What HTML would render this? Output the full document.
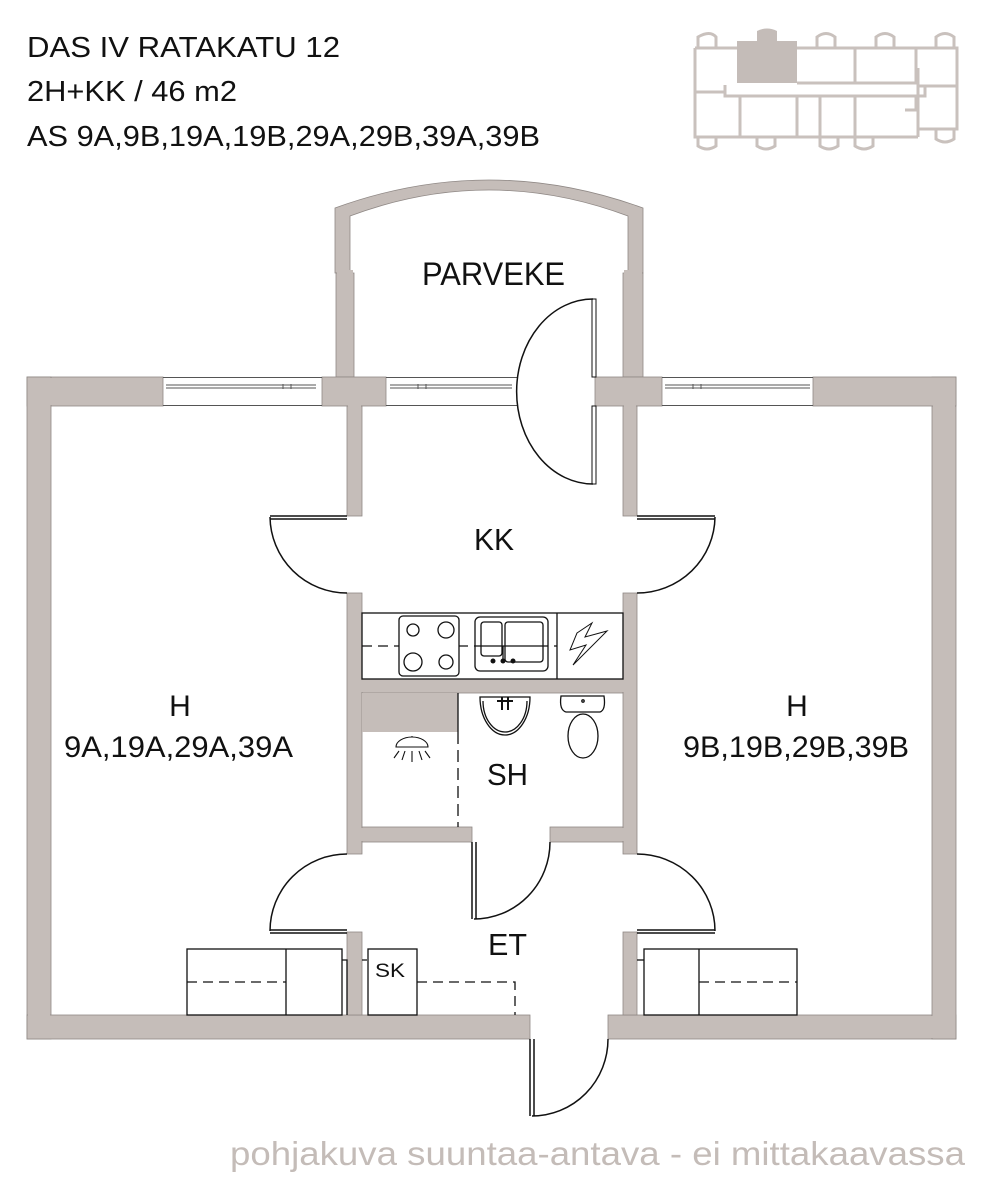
<!DOCTYPE html>
<html><head><meta charset="utf-8"><style>
html,body{margin:0;padding:0;background:#fff;}
svg{display:block;}
text{font-family:"Liberation Sans",Arial,sans-serif;}
</style></head><body>
<svg width="990" height="1200" viewBox="0 0 990 1200" xmlns="http://www.w3.org/2000/svg">
<rect width="990" height="1200" fill="#fff"/>
<!-- Title -->
<g fill="#111" font-size="29">
<text x="27" y="57" textLength="313" lengthAdjust="spacingAndGlyphs">DAS IV RATAKATU 12</text>
<text x="27" y="101" textLength="210" lengthAdjust="spacingAndGlyphs">2H+KK / 46 m2</text>
<text x="27" y="146" textLength="513" lengthAdjust="spacingAndGlyphs">AS 9A,9B,19A,19B,29A,29B,39A,39B</text>
</g>
<!-- Key plan -->
<g fill="none" stroke="#c9c1bd" stroke-width="3">
<rect x="737" y="41" width="60" height="42" fill="#c4bcb8" stroke="none"/>
<path d="M757,41 V31 Q767,26 777,31 V41 Z" fill="#c4bcb8" stroke="none"/>
<path d="M695,48 H737 M695,48 V137 H918 M918,137 V129 H957 V48 H797 M797,83 H918 M695,92 H725 M725,85 V96 H925 V85 M740,96 V137 M797,96 V137 M820,96 V137 M855,96 V137 M855,83 V48 M916,48 V83 M916,96 V110 H905 M918,130 V68 M918,86 H957"/>
<path d="M698,48 V37 Q710,30 716,37 V48 M817,48 V37 Q826,30 835,37 V48 M876,48 V37 Q885,30 894,37 V48 M936,48 V37 Q945,30 954,37 V48"/>
<path d="M698,137 V146 Q707,152 716,146 V137 M757,137 V146 Q766,152 775,146 V137 M820,137 V146 Q829,152 838,146 V137 M855,137 V146 Q864,152 873,146 V137 M936,129 V139 Q945,145 954,139 V129"/>
</g>
<!-- Walls -->
<g fill="#c5bdb9" stroke="#8f8885" stroke-width="0.8">
<path d="M335,273 L335,208 Q489,152 643,208 L643,273 L628,273 L628,216 Q489,164 350,216 L350,273 Z"/>
<rect x="336" y="273" width="18" height="104"/>
<rect x="623" y="273" width="20" height="104"/>
<rect x="27" y="377" width="136" height="29"/>
<rect x="27" y="377" width="24" height="662"/>
<rect x="27" y="1015" width="503" height="24"/>
<rect x="608" y="1015" width="348" height="24"/>
<rect x="932" y="377" width="24" height="662"/>
<rect x="813" y="377" width="143" height="29"/>
<rect x="322" y="377" width="64" height="29"/>
<rect x="595" y="377" width="67" height="29"/>
<rect x="347" y="406" width="15" height="110"/>
<rect x="347" y="593" width="15" height="261"/>
<rect x="347" y="932" width="15" height="83"/>
<rect x="623" y="406" width="14" height="110"/>
<rect x="623" y="593" width="14" height="261"/>
<rect x="623" y="932" width="14" height="83"/>
<rect x="362" y="679" width="261" height="14"/>
<rect x="362" y="827" width="110" height="15"/>
<rect x="550" y="827" width="73" height="15"/>
<rect x="362" y="693" width="96" height="39" stroke="none"/>
</g>
<!-- cover interior lines of walls -->
<g fill="#c5bdb9">
<rect x="28" y="378" width="22" height="660"/>
<rect x="28" y="378" width="134" height="27"/>
<rect x="28" y="1016" width="501" height="22"/>
<rect x="933" y="378" width="22" height="660"/>
<rect x="814" y="378" width="141" height="27"/>
<rect x="609" y="1016" width="346" height="22"/>
<rect x="933" y="1016" width="22" height="22"/>
<rect x="323" y="378" width="62" height="27"/><rect x="348" y="378" width="13" height="137"/>
<rect x="337" y="270" width="16" height="106"/>
<rect x="596" y="378" width="65" height="27"/><rect x="624" y="378" width="12" height="137"/>
<rect x="624" y="270" width="18" height="106"/>
<rect x="348" y="594" width="13" height="259"/><rect x="348" y="680" width="288" height="12"/>
<rect x="348" y="828" width="123" height="13"/><rect x="551" y="828" width="84" height="13"/>
<rect x="624" y="594" width="12" height="259"/>
<rect x="348" y="933" width="13" height="81"/><rect x="348" y="1016" width="13" height="22"/>
<rect x="624" y="933" width="12" height="81"/><rect x="624" y="1016" width="12" height="22"/>
</g>
<!-- Windows -->
<g fill="none" stroke="#555" stroke-width="1">
<path d="M163,377.5 H322 M163,405.5 H322 M166,385 H316 M166,388 H316 M283,384 V389 M291,384 V389"/>
<path d="M386,377.5 H517 M386,405.5 H517 M390,385 H512 M390,388 H512 M418,384 V389 M426,384 V389"/>
<path d="M662,377.5 H813 M662,405.5 H813 M665,385 H810 M665,388 H810 M693,384 V389 M701,384 V389"/>
</g>
<!-- Doors -->
<g fill="none" stroke="#111" stroke-width="1.5">
<path d="M593,299 A76,92 0 0 0 593,484"/>
<rect x="592" y="299" width="4" height="78" stroke-width="1"/>
<rect x="592" y="406" width="4" height="78" stroke-width="1"/>
<path d="M270,516 H347 M270,519 H347 M270,517 A77,77 0 0 0 347,593"/>
<path d="M637,516 H715 M637,519 H715 M715,517 A78,77 0 0 1 637,593"/>
<path d="M270,930 H347 M270,933 H347 M270,931 A77,77 0 0 1 347,854"/>
<path d="M637,930 H715 M637,933 H715 M715,931 A78,77 0 0 0 637,854"/>
<path d="M472,842 V919 M476,842 V919 M474,919 A76,77 0 0 0 550,842"/>
<path d="M530,1039 V1116 M534,1039 V1116 M532,1116 A76,77 0 0 0 608,1039"/>
</g>
<!-- Kitchen -->
<g fill="none" stroke="#111" stroke-width="1.3">
<rect x="362" y="613" width="261" height="66"/>
<line x1="557" y1="613" x2="557" y2="679"/>
<line x1="362" y1="646" x2="557" y2="646" stroke-dasharray="10,6"/>
<rect x="399" y="616" width="60" height="60" rx="4" fill="#fff"/>
<circle cx="413" cy="630" r="6"/><circle cx="446" cy="630" r="8"/>
<circle cx="413" cy="662" r="9"/><circle cx="446" cy="662" r="7"/>
<rect x="475" y="617" width="73" height="54" rx="5" fill="#fff"/>
<rect x="481" y="622" width="21" height="34" rx="3"/>
<rect x="505" y="622" width="38" height="40" rx="3"/>
<line x1="475" y1="646" x2="548" y2="646"/>
<line x1="503" y1="646" x2="503" y2="661"/>
<path d="M577,633 L592,623 L585,637 L607,631 L573,665 L586,645 L570,650 Z" stroke-width="1"/>
</g>
<g fill="#111"><circle cx="493" cy="661" r="2.5"/><circle cx="503" cy="661" r="2.5"/><circle cx="513" cy="661" r="2.5"/></g>
<!-- Bathroom -->
<g fill="none" stroke="#111" stroke-width="1.3">
<line x1="458" y1="732" x2="458" y2="827" stroke-dasharray="12,6"/>
<line x1="458" y1="693" x2="458" y2="732"/>
<path d="M480,697 A25,38 0 0 0 530,697 Z" fill="#fff"/>
<path d="M483,701 A22,31 0 0 0 527,701"/>
<path d="M502,697 V710 M508,697 V710 M497,701 H513" stroke-width="2"/>
<path d="M561,696 H604 Q606,710 600,712 H566 Q559,710 561,696 Z"/>
<circle cx="583" cy="701" r="1.2"/>
<ellipse cx="583" cy="736" rx="15" ry="22"/>
<path d="M396,747 A16,10 0 0 1 428,747 Z M412,736 V737 M399,751 L394,758 M405,751 L402,760 M412,751 V762 M419,751 L422,760 M425,751 L430,758" stroke-width="1.1"/>
</g>
<!-- Hall storage -->
<g fill="none" stroke="#111" stroke-width="1.3">
<rect x="187" y="949" width="155" height="66"/>
<line x1="286" y1="949" x2="286" y2="1015"/>
<line x1="187" y1="982" x2="286" y2="982" stroke-dasharray="10,6"/>
<path d="M342,960 H347 V1015 M362,960 H367"/>
<rect x="368" y="949" width="49" height="66"/>
<path d="M417,982 H515 V1015" stroke-dasharray="10,6"/>
<rect x="644" y="949" width="153" height="66"/>
<line x1="699" y1="949" x2="699" y2="1015"/>
<line x1="699" y1="982" x2="797" y2="982" stroke-dasharray="10,6"/>
<path d="M637,960 H644"/>
</g>
<!-- Labels -->
<g fill="#111">
<text x="422" y="285" font-size="32" textLength="143" lengthAdjust="spacingAndGlyphs">PARVEKE</text>
<text x="474" y="550" font-size="31" textLength="40" lengthAdjust="spacingAndGlyphs">KK</text>
<text x="180" y="716" font-size="30" text-anchor="middle">H</text>
<text x="64" y="757" font-size="30" textLength="229" lengthAdjust="spacingAndGlyphs">9A,19A,29A,39A</text>
<text x="797" y="716" font-size="30" text-anchor="middle">H</text>
<text x="683" y="757" font-size="30" textLength="226" lengthAdjust="spacingAndGlyphs">9B,19B,29B,39B</text>
<text x="487" y="785" font-size="31" textLength="41" lengthAdjust="spacingAndGlyphs">SH</text>
<text x="488" y="955" font-size="31" textLength="39" lengthAdjust="spacingAndGlyphs">ET</text>
<text x="375" y="977" font-size="19" textLength="30" lengthAdjust="spacingAndGlyphs">SK</text>
</g>
<text x="230" y="1165" font-size="33" fill="#c4bcb8" textLength="735" lengthAdjust="spacingAndGlyphs">pohjakuva suuntaa-antava - ei mittakaavassa</text>
</svg>
</body></html>
